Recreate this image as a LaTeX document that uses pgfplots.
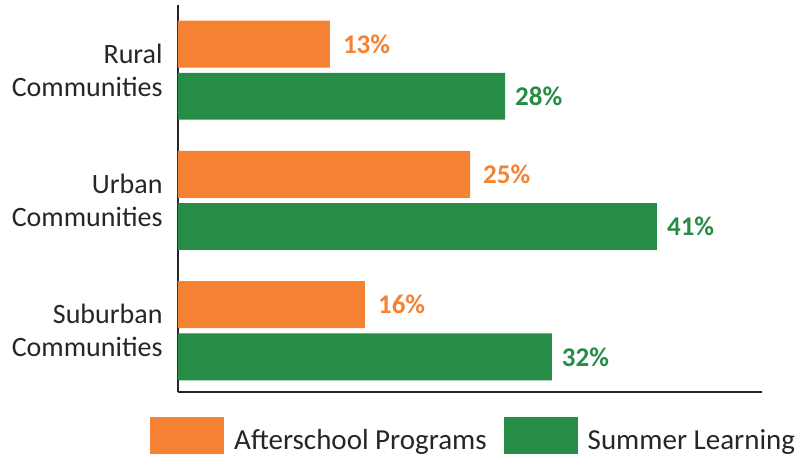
\documentclass[border=0pt]{standalone}
\usepackage{pgfplots}
\pgfplotsset{compat=1.18}
\usepackage{fontspec}
\setmainfont{Carlito}
\definecolor{cOrange}{HTML}{F58232}
\definecolor{cGreen}{HTML}{268C46}
\definecolor{cText}{HTML}{262626}
\begin{document}
\begin{tikzpicture}[x=1pt,y=1pt]
\useasboundingbox (0,0) rectangle (804,457);
\begin{axis}[
  at={(178pt,65pt)}, anchor=south west,
  scale only axis, width=584pt, height=387pt,
  xmin=0, xmax=50, ymin=-0.47, ymax=2.5,
  xbar, bar width=0.36,
  axis lines*=left,
  axis line style={-, line width=2pt, color=cText},
  xtick=\empty, ytick={0,1,2},
  yticklabels={{Suburban\hspace{0.3em}\\Communities},{Urban\hspace{0.3em}\\Communities},{Rural\hspace{0.3em}\\Communities}},
  y tick label style={align=right, font=\fontsize{28}{33}\selectfont, text=cText, inner sep=0pt, xshift=-11pt},
  ytick style={draw=none},
  point meta=x,
  /pgf/number format/assume math mode=true,
  nodes near coords={\pgfmathprintnumber{\pgfplotspointmeta}\%},
  nodes near coords style={font=\bfseries\fontsize{27}{33}\selectfont, anchor=west, inner sep=0pt, xshift=10pt},
  legend style={at={(-0.0479,-0.1124)}, anchor=west, draw=none, fill=none,
    legend columns=2, font=\fontsize{29}{35}\selectfont, text=cText,
    inner sep=0pt, nodes={inner sep=0pt, yshift=5pt},
    /tikz/every odd column/.append style={column sep=10pt},
    /tikz/every even column/.append style={column sep=17pt}},
  legend image code/.code={\fill[#1] (0pt,-9pt) rectangle (74pt,28pt);},
  clip=false,
]
\addplot[fill=cOrange, draw=none, bar shift=0.2,
  every node near coord/.append style={text=cOrange, xshift=3pt}]
  coordinates {(16,0) (25,1) (13,2)};
\addplot[fill=cGreen, draw=none, bar shift=-0.2,
  every node near coord/.append style={text=cGreen}]
  coordinates {(32,0) (41,1) (28,2)};
\legend{Afterschool Programs, Summer Learning}
\end{axis}
\end{tikzpicture}
\end{document}
